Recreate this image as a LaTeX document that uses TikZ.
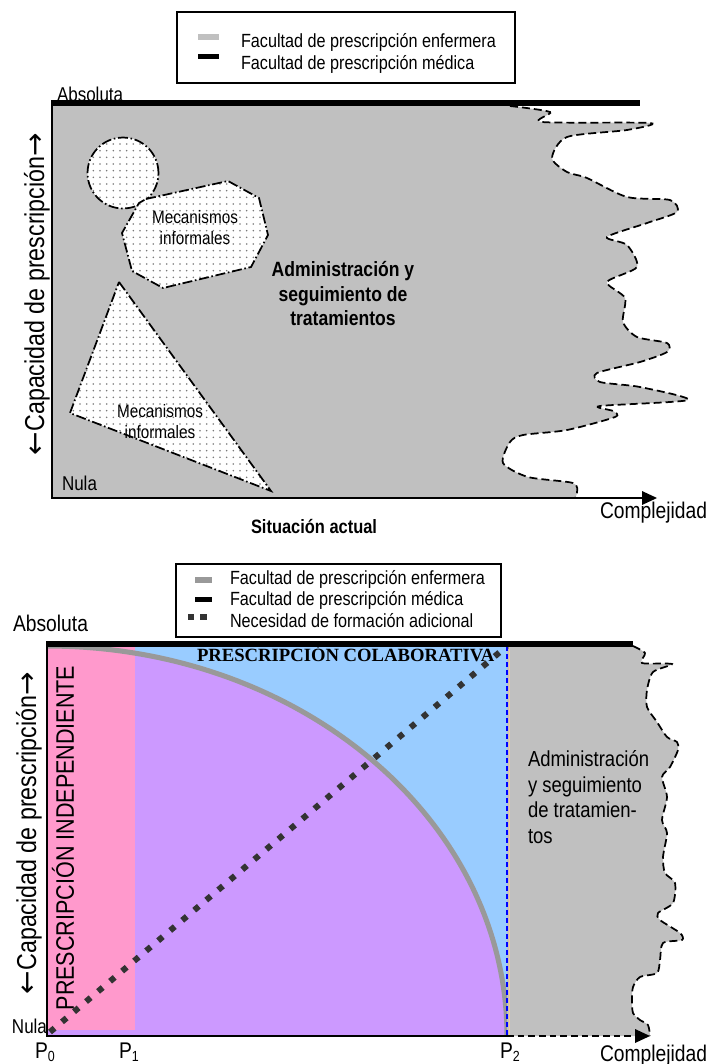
\documentclass[tikz,border=0pt]{standalone}
\usepackage{fontspec}
\setmainfont[FakeStretch=0.85]{Liberation Sans}
\newfontfamily\serifbold{Liberation Serif}
\newfontfamily\arrowfont{DejaVu Sans}
\usetikzlibrary{patterns,arrows.meta}
\definecolor{panelgray}{HTML}{C0C0C0}
\definecolor{arcgray}{HTML}{999999}
\definecolor{pinkreg}{HTML}{FF99CC}
\definecolor{purplereg}{HTML}{CC99FF}
\definecolor{bluereg}{HTML}{99CCFF}
\definecolor{dotdark}{HTML}{333333}
\definecolor{dotgray}{HTML}{7A7A7A}
\definecolor{peach}{HTML}{F2C79A}
\pgfdeclarepatternformonly{sparsedots}{\pgfpoint{-1pt}{-1pt}}{\pgfpoint{1pt}{1pt}}{\pgfpoint{5pt}{5pt}}{\pgfpathcircle{\pgfpointorigin}{0.65pt}\pgfusepath{fill}}
\tikzset{
  lbl/.style={inner sep=0pt, outer sep=0pt},
  legtext/.style={lbl, anchor=base west, font=\fontsize{14.3}{17}\selectfont},
  axlbl/.style={lbl, anchor=base west, font=\fontsize{17}{20}\selectfont},
  smalllbl/.style={lbl, anchor=base west, font=\fontsize{15}{18}\selectfont},
  mecalbl/.style={lbl, align=center, font=\fontsize{13.5}{15.75}\selectfont},
  admtop/.style={lbl, anchor=base, font=\bfseries\fontsize{15.5}{18.75}\selectfont},
  admbot/.style={lbl, anchor=base west, font=\fontsize{16.3}{19.3}\selectfont},
  vlbl/.style={lbl, rotate=90, font=\fontsize{20.5}{24}\selectfont},
  legbox/.style={line width=1.1pt},
  informal/.style={preaction={fill=white}, preaction={pattern=sparsedots, pattern color=dotgray},
     draw, line width=1.3pt, dash pattern=on 7.5pt off 2pt on 1.2pt off 2pt},
  wavy/.style={line width=1.3pt, dash pattern=on 6pt off 3pt},
  axisline/.style={line width=1.4pt},
}
\newcommand{\Psub}[1]{P{\fontsize{11}{11}\selectfont\raisebox{-2.5pt}{#1}}}
\newcommand{\uparr}{{\arrowfont\fontsize{21}{21}\selectfont →}}
\newcommand{\dnarr}{{\arrowfont\fontsize{21}{21}\selectfont ←}}
\begin{document}
\begin{tikzpicture}[x=0.75pt,y=-0.75pt]
\useasboundingbox (0,0) rectangle (726,1064);
% ================= TOP PANEL =================
% legend
\draw[legbox] (177,12) rectangle (515,83);
\fill[panelgray] (198,34) rectangle (219,40);
\fill[black] (198,54) rectangle (219,59);
\node[legtext] (lt1) at (241,47) {Facultad de prescripción enfermera};
\node[legtext] (lt2) at (241,69) {Facultad de prescripción médica};
\node[smalllbl] (abs1) at (57,101) {Absoluta};
% gray region
\fill[panelgray] (52,103) -- (510,103) -- plot[smooth, tension=0.45] coordinates {
(510,106) (550,112) (542,122) (650,123) (627,130) (567,137) (552,158) (567,172) (587,178)
(627,197) (670,200) (677,212) (647,223) (607,237) (627,245) (637,267) (607,282) (625,298)
(623,322) (637,337) (667,343) (667,352) (640,362) (597,373) (600,382) (640,387) (688,400)
(600,406) (613,411) (615,417) (567,430) (523,435) (510,442) (503,463) (528,477) (573,483)
(577,493) (575,498)} -- (52,498) -- cycle;
\draw[wavy] plot[smooth, tension=0.45] coordinates {
(510,106) (550,112) (542,122) (650,123) (627,130) (567,137) (552,158) (567,172) (587,178)
(627,197) (670,200) (677,212) (647,223) (607,237) (627,245) (637,267) (607,282) (625,298)
(623,322) (637,337) (667,343) (667,352) (640,362) (597,373) (600,382) (640,387) (688,400)
(600,406) (613,411) (615,417) (567,430) (523,435) (510,442) (503,463) (528,477) (573,483)
(577,493) (575,498)};
% informal mechanisms
\path[informal] (123,173) circle[radius=26.6pt];
\path[informal] (146,199) -- (228,181) -- (259,198) -- (268,235) -- (251,267) -- (163,288)
   -- (132,271) -- (122,233) -- (139,203) -- cycle;
\path[informal] (119,282) -- (271,491) -- (70,413) -- cycle;
\node[mecalbl] (mec1) at (195,228) {Mecanismos\\informales};
\node[mecalbl] (mec2) at (160,422) {Mecanismos\\informales};
\node[admtop] (adm1) at (343,276) {Administración y};
\node[admtop] (adm2) at (343,301) {seguimiento de};
\node[admtop] (adm3) at (343,325) {tratamientos};
% lines and axes
\draw[line width=4.5pt] (52,103) -- (640,103);
\draw[axisline] (52,100) -- (52,498) -- (643,498);
\fill (642,491) -- (657,498) -- (642,505) -- cycle;
\node[smalllbl] (nula1) at (62,490) {Nula};
\node[vlbl] (cap1) at (37,294) {\dnarr Capacidad de prescripción\uparr};
\node[lbl, anchor=base west, font=\bfseries\fontsize{14.5}{17}\selectfont] (sit) at (251,533) {Situación actual};
\node[axlbl] (comp1) at (600,518) {Complejidad};
% ================= BOTTOM PANEL =================
\draw[legbox] (176,564) rectangle (501,637);
\fill[arcgray] (195,577) rectangle (212,583);
\fill[black] (195,597) rectangle (212,602);
\fill[dotdark] (188,614) rectangle (194,620);
\fill[dotdark] (200,614) rectangle (207,620);
\node[legtext] (lb1) at (230,584) {Facultad de prescripción enfermera};
\node[legtext] (lb2) at (230,605) {Facultad de prescripción médica};
\node[legtext] (lb3) at (230,627) {Necesidad de formación adicional};
\node[axlbl] (abs2) at (13,631) {Absoluta};
% regions
\fill[bluereg] (47,646) rectangle (507,1036);
\fill[purplereg] (47,1036) -- (47,646) arc[start angle=90, end angle=0, x radius=345pt, y radius=292.5pt] -- cycle;
\fill[pinkreg] (48,646) rectangle (135,1030);
\draw[arcgray, line width=3.8pt] (47,646) arc[start angle=90, end angle=0, x radius=345pt, y radius=292.5pt];
\fill[panelgray] (507,646) -- (633,646) -- plot[smooth, tension=0.45] coordinates {
(633,646) (645,653) (642,663) (672,664) (653,672) (647,690) (647,707) (657,722) (667,737)
(677,742) (678,750) (670,767) (662,777) (667,797) (662,820) (667,833) (663,857) (665,873)
(675,883) (673,903) (658,913) (660,920) (680,933) (682,940) (663,943) (660,960) (657,973)
(640,977) (633,987) (632,1000) (633,1013) (640,1020) (648,1025) (650,1036)} -- (507,1036) -- cycle;
\draw[wavy] plot[smooth, tension=0.45] coordinates {
(633,646) (645,653) (642,663) (672,664) (653,672) (647,690) (647,707) (657,722) (667,737)
(677,742) (678,750) (670,767) (662,777) (667,797) (662,820) (667,833) (663,857) (665,873)
(675,883) (673,903) (658,913) (660,920) (680,933) (682,940) (663,943) (660,960) (657,973)
(640,977) (633,987) (632,1000) (633,1013) (640,1020) (648,1025) (650,1036)};
\draw[peach, line width=0.8pt] (509.5,646) -- (509.5,1036);
\draw[blue, line width=1.1pt, dash pattern=on 4pt off 2pt] (507,646) -- (507,1036);
\node[lbl, anchor=base west, font=\serifbold\bfseries\fontsize{14}{16}\selectfont] (colab) at (197,661) {PRESCRIPCIÓN COLABORATIVA};
\coordinate (dstart) at (50,1032);
\coordinate (dend) at (507,646);
\draw[dotdark, line width=4.5pt, dash pattern=on 4.5pt off 7.3pt] (dstart) -- (dend);
\node[vlbl, font=\fontsize{19}{22}\selectfont] (indep) at (63,838) {PRESCRIPCIÓN INDEPENDIENTE};
\node[admbot] (ab1) at (528,766) {Administración};
\node[admbot] (ab2) at (528,792) {y seguimiento};
\node[admbot] (ab3) at (528,817) {de tratamien-};
\node[admbot] (ab4) at (528,843) {tos};
% lines and axes
\draw[line width=4pt] (47,644) -- (633,644);
\draw[axisline] (47,641) -- (47,1036) -- (507,1036);
\draw[axisline, dash pattern=on 5pt off 3pt] (507,1036) -- (636,1036);
\fill (635,1029) -- (650,1036) -- (635,1043) -- cycle;
\node[vlbl] (cap2) at (29,833) {\dnarr Capacidad de prescripción\uparr};
\node[smalllbl] (nula2) at (12,1033) {Nula};
\node[axlbl] (p0) at (35,1058) {\Psub{0}};
\node[axlbl] (p1) at (119,1058) {\Psub{1}};
\node[axlbl] (p2) at (500,1058) {\Psub{2}};
\node[axlbl] (comp2) at (600,1061) {Complejidad};
\end{tikzpicture}
\end{document}
